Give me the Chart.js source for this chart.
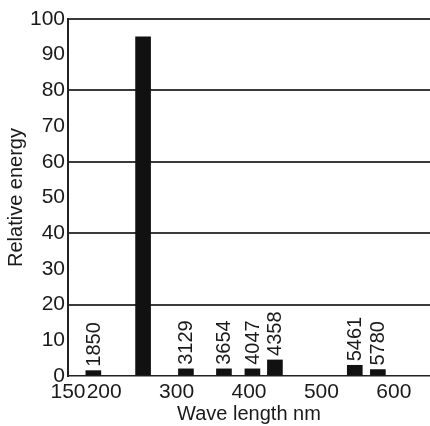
<!DOCTYPE html>
<html>
<head>
<meta charset="utf-8">
<script src="https://cdn.jsdelivr.net/npm/chart.js@4.4.1/dist/chart.umd.min.js"></script>
<style>
  html, body { margin: 0; padding: 0; background: #fff; }
  #wrap { width: 430px; height: 426px; position: relative; }
</style>
</head>
<body>
<div id="wrap"><canvas id="spectrum"></canvas></div>
<script>
// ── Data: mercury lamp lines ────────────────────────────────────────────────
const wavelengths = [185.0, 253.7, 312.9, 365.4, 404.7, 435.8, 546.1, 578.0]; // nm
const energies    = [1.5, 95, 2, 2, 2, 4.5, 3, 1.8];                          // relative
const lineLabels  = ['1850', '', '3129', '3654', '4047', '4358', '5461', '5780']; // Å
const xTicks      = [150, 200, 300, 400, 500, 600];

const FONT = "'Liberation Sans', Arial, Helvetica, sans-serif";
const INK  = '#1a1a1a';

Chart.defaults.font.family = FONT;
Chart.defaults.color = INK;

// rotated wavelength labels sitting on top of each bar
const lineLabelPlugin = {
  id: 'lineLabels',
  afterDatasetsDraw(chart) {
    const { ctx } = chart;
    const meta = chart.getDatasetMeta(0);
    ctx.save();
    ctx.fillStyle = INK;
    ctx.font = `20px ${FONT}`;
    ctx.textAlign = 'left';
    ctx.textBaseline = 'middle';
    meta.data.forEach((bar, i) => {
      const txt = lineLabels[i];
      if (!txt) return;
      ctx.save();
      ctx.translate(bar.x, bar.y - 4);
      ctx.rotate(-Math.PI / 2);
      ctx.fillText(txt, 0, 1);
      ctx.restore();
    });
    ctx.restore();
  }
};

new Chart(document.getElementById('spectrum'), {
  type: 'bar',
  data: {
    datasets: [{
      data: wavelengths.map((w, i) => ({ x: w, y: energies[i] })),
      backgroundColor: '#111',
      borderWidth: 0,
      barThickness: 15,
    }],
  },
  options: {
    responsive: true,
    maintainAspectRatio: false,
    animation: false,
    layout: { padding: { top: 19, right: 0, bottom: 0, left: 0 } },
    scales: {
      x: {
        type: 'linear',
        offset: false,
        min: 150,
        max: 650,
        afterBuildTicks: s => { s.ticks = xTicks.map(v => ({ value: v })); },
        afterFit: s => { s.height = 50; },
        grid: { display: false, drawTicks: false, offset: false },
        border: { display: true, color: '#222', width: 1.5 },
        ticks: { font: { size: 21 }, padding: 4, maxRotation: 0, autoSkip: false },
        title: {
          display: true,
          text: 'Wave length nm',
          font: { size: 20 },
          padding: { top: 0, bottom: 0 },
        },
      },
      y: {
        min: 0,
        max: 100,
        afterFit: s => { s.width = 68; },
        ticks: { stepSize: 10, font: { size: 21 }, padding: 3 },
        grid: {
          drawTicks: false,
          color: c => (c.tick.value % 20 === 0 && c.tick.value > 0) ? '#3a3a3a' : 'rgba(0,0,0,0)',
          lineWidth: 2,
        },
        border: { display: true, color: '#222', width: 2 },
        title: {
          display: true,
          text: 'Relative energy',
          font: { size: 20 },
          padding: { top: 4, bottom: 0 },
        },
      },
    },
    plugins: {
      legend: { display: false },
      tooltip: { enabled: false },
    },
  },
  plugins: [lineLabelPlugin],
});
</script>
</body>
</html>
